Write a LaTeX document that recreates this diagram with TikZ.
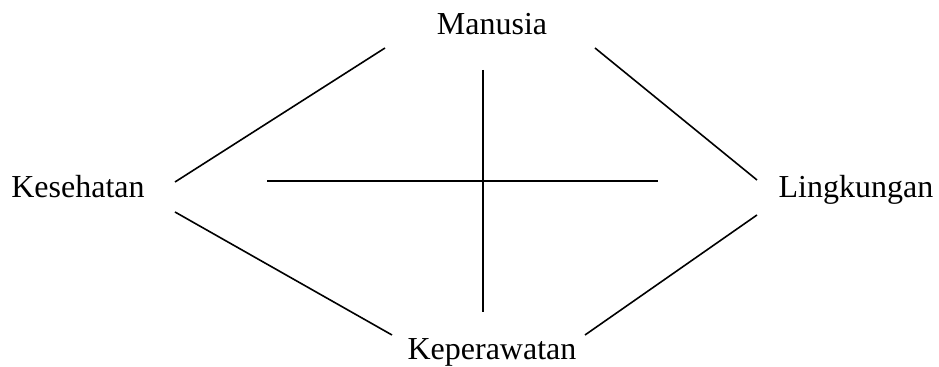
\documentclass[tikz,border=0pt]{standalone}
\usepackage{fontspec}
\setmainfont{Liberation Serif}
\usepackage{tikz}
\usetikzlibrary{positioning, calc}
\tikzset{
	lbl/.style ={anchor=base, inner sep=0pt, font=\fontsize{16}{19}\selectfont},
	link/.style={line width=0.8pt, draw=black},
}
\begin{document}
\begin{tikzpicture}[x=0.5pt, y=-0.5pt]
	\useasboundingbox (0,0) rectangle (939,367);
	\node[lbl] (man) at (492,35) {Manusia};
	\node[lbl] (kes) at (78,198) {Kesehatan};
	\node[lbl] (lin) at (856,198) {Lingkungan};
	\node[lbl] (kep) at (492,360) {Keperawatan};
	% sisi belah ketupat
	\draw[link] ([shift={(97,-16)}]kes.base) -- ([shift={(-107,13)}]man.base);
	\draw[link] ([shift={(103,13)}]man.base) -- ([shift={(-99,-18)}]lin.base);
	\draw[link] ([shift={(97,14)}]kes.base) -- ([shift={(-100,-25)}]kep.base);
	\draw[link] ([shift={(-99,17)}]lin.base) -- ([shift={(93,-25)}]kep.base);
	% salib tengah
	\coordinate (hl) at (267,181); \coordinate (hr) at (658,181);
	\coordinate (vt) at (483,70);  \coordinate (vb) at (483,312);
	\draw[link] (hl) -- (hr);
	\draw[link] (vt) -- (vb);
\end{tikzpicture}
\end{document}
